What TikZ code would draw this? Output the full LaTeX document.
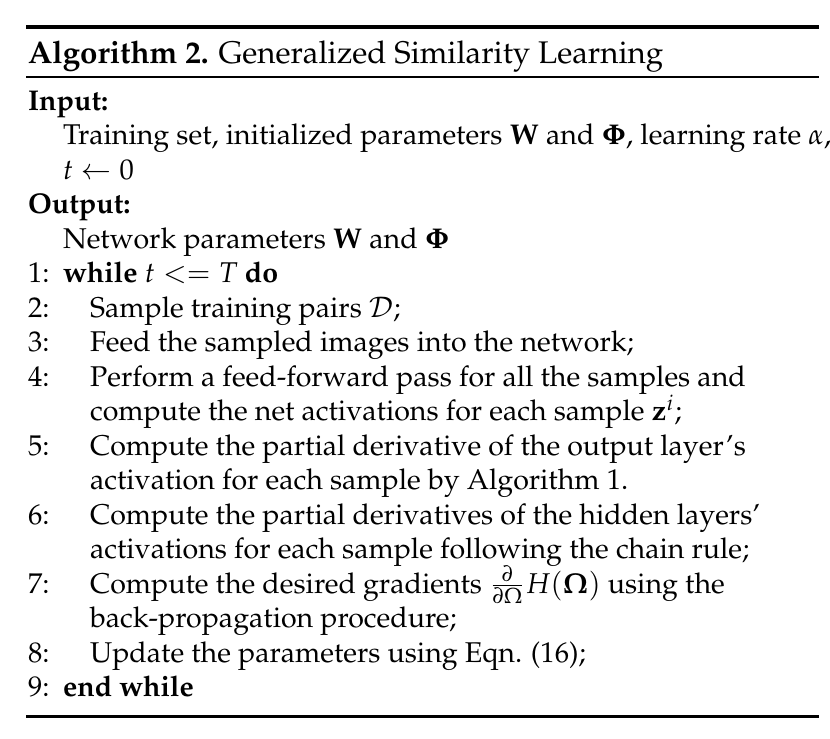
\documentclass[tikz,border=0pt]{standalone}
\usepackage[T1]{fontenc}
\usepackage{mathpazo}

\tikzset{every picture/.style={line width=0.75pt}}
\tikzset{algtext/.style={anchor=base west, inner sep=0pt, font=\fontsize{10}{12}\selectfont},
	algtitle/.style={anchor=base west, inner sep=0pt, font=\fontsize{10.95}{13}\selectfont}}

\begin{document}
\begin{tikzpicture}[x=0.35pt,y=0.35pt,yscale=-1]
	\useasboundingbox (0,0) rectangle (830,738);

	%Straight Lines [top rule]
	\draw [line width=1.25pt]  (26,27) -- (819,27) ;
	%Straight Lines [rule under title]
	\draw [line width=0.8pt]  (26,77) -- (819,77) ;
	%Straight Lines [bottom rule]
	\draw [line width=0.9pt]  (26,716.5) -- (819,716.5) ;

	% Text Node
	\node [algtitle] (title) at (27,63) {\textbf{Algorithm 2.} Generalized Similarity Learning};
	% Text Node
	\node [algtext] (input) at (27,110) {\textbf{Input:}};
	% Text Node
	\node [algtext] (trainset) at (62,144.5) {Training set, initialized parameters $\mathbf{W}$ and $\mathbf{\Phi}$, learning rate $\alpha$,};
	% Text Node
	\node [algtext] (tinit) at (62,179) {$t \leftarrow 0$};
	% Text Node
	\node [algtext] (output) at (27,213.5) {\textbf{Output:}};
	% Text Node
	\node [algtext] (netparams) at (62,248) {Network parameters $\mathbf{W}$ and $\mathbf{\Phi}$};

	% Text Node
	\node [algtext] (n1) at (27,282.5) {1:};
	\node [algtext] (s1) at (62,282.5) {\textbf{while} $t <= T$ \textbf{do}};
	% Text Node
	\node [algtext] (n2) at (27,317) {2:};
	\node [algtext] (s2) at (89,317) {Sample training pairs $\mathcal{D}$;};
	% Text Node
	\node [algtext] (n3) at (27,351.5) {3:};
	\node [algtext] (s3) at (89,351.5) {Feed the sampled images into the network;};
	% Text Node
	\node [algtext] (n4) at (27,386) {4:};
	\node [algtext] (s4a) at (89,386) {Perform a feed-forward pass for all the samples and};
	\node [algtext] (s4b) at (89,420.5) {compute the net activations for each sample $\mathbf{z}^{i}$;};
	% Text Node
	\node [algtext] (n5) at (27,455) {5:};
	\node [algtext] (s5a) at (89,455) {Compute the partial derivative of the output layer's};
	\node [algtext] (s5b) at (89,489.5) {activation for each sample by Algorithm 1.};
	% Text Node
	\node [algtext] (n6) at (27,524) {6:};
	\node [algtext] (s6a) at (89,524) {Compute the partial derivatives of the hidden layers'};
	\node [algtext] (s6b) at (89,558.5) {activations for each sample following the chain rule;};
	% Text Node
	\node [algtext] (n7) at (27,593) {7:};
	\node [algtext] (s7a) at (89,593) {Compute the desired gradients $\frac{\partial}{\partial\Omega}H(\mathbf{\Omega})$ using the};
	\node [algtext] (s7b) at (89,627.5) {back-propagation procedure;};
	% Text Node
	\node [algtext] (n8) at (27,662) {8:};
	\node [algtext] (s8) at (89,662) {Update the parameters using Eqn. (16);};
	% Text Node
	\node [algtext] (n9) at (27,696.5) {9:};
	\node [algtext] (s9) at (62,696.5) {\textbf{end while}};

\end{tikzpicture}
\end{document}
